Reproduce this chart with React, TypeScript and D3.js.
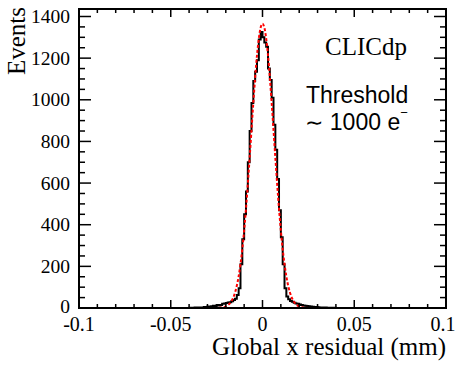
import React from "react";
import * as d3 from "d3";

// ---- data ----
const binLowEdge = -0.1;
const binWidth = 0.001;
// 200 bins over [-0.1, 0.1]
const counts: number[] = [
  0, 0, 0, 0, 0, 0, 0, 0, 0, 0,
  0, 0, 0, 0, 0, 0, 0, 0, 0, 0,
  0, 0, 0, 0, 0, 0, 0, 0, 0, 0,
  0, 0, 0, 0, 0, 0, 0, 0, 0, 0,
  0, 0, 0, 0, 0, 0, 0, 0, 0, 0,
  0, 0, 0, 0, 0, 0, 0, 0, 0, 0,
  1, 1, 1, 2, 1, 2, 2, 3, 5, 4,
  7, 6, 8, 11, 9, 14, 12, 15, 20, 22,
  24, 27, 28, 33, 38, 45, 62, 95, 210, 330,
  450, 560, 700, 850, 985, 1090, 1135, 1190, 1290, 1325,
  1300, 1275, 1255, 1150, 1095, 1010, 880, 760, 620, 470,
  340, 210, 95, 55, 42, 34, 30, 25, 22, 20,
  17, 14, 12, 11, 10, 8, 7, 6, 5, 5,
  4, 3, 3, 2, 2, 1, 1, 1, 0, 1,
  0, 0, 0, 0, 0, 0, 0, 0, 0, 0,
  0, 0, 0, 0, 0, 0, 0, 0, 0, 0,
  0, 0, 0, 0, 0, 0, 0, 0, 0, 0,
  0, 0, 0, 0, 0, 0, 0, 0, 0, 0,
  0, 0, 0, 0, 0, 0, 0, 0, 0, 0,
  0, 0, 0, 0, 0, 0, 0, 0, 0, 0,
];

// Gaussian fit curve, sampled
const fitX = [
  -0.1, -0.03, -0.025, -0.023, -0.021, -0.019, -0.017, -0.015, -0.013, -0.011,
  -0.009, -0.007, -0.005, -0.003, -0.001, 0, 0.001, 0.003, 0.005, 0.007,
  0.009, 0.011, 0.013, 0.015, 0.017, 0.019, 0.021, 0.023, 0.025, 0.03, 0.1,
];
const fitY = [
  0, 0, 0.5, 1.4, 4.4, 12.5, 32, 73, 152, 283,
  476, 722, 986, 1214, 1347, 1365, 1347, 1214, 986, 722,
  476, 283, 152, 73, 32, 12.5, 4.4, 1.4, 0.5, 0, 0,
];

const xDomain = [-0.1, 0.1];
const yDomain = [0, 1436];
const xMajorTicks = [-0.1, -0.05, 0, 0.05, 0.1];
const xTickLabels = ["-0.1", "-0.05", "0", "0.05", "0.1"];
const yMajorTicks = [0, 200, 400, 600, 800, 1000, 1200, 1400];
const yTickLabels = ["0", "200", "400", "600", "800", "1000", "1200", "1400"];

const xTitle = "Global x residual (mm)";
const yTitle = "Events";
const label1 = "CLICdp";
const label2 = "Threshold";
const label3a = "\u223C";
const label3b = " 1000 e";

export default function App() {
  const L = 79, R = 446, T = 9, B = 308;
  const x = d3.scaleLinear().domain(xDomain).range([L, R]);
  const y = d3.scaleLinear().domain(yDomain).range([B, T]);

  const edges = counts.map((_, i) => binLowEdge + i * binWidth);
  const histPts: [number, number][] = counts.map((c, i) => [x(edges[i]), y(c)]);
  histPts.push([x(binLowEdge + counts.length * binWidth), y(counts[counts.length - 1])]);
  const histPath = d3.line().curve(d3.curveStepAfter)(histPts) || "";

  const fitPath =
    d3
      .line<number>()
      .x((_, i) => x(fitX[i]))
      .y((v) => y(v))
      .curve(d3.curveMonotoneX)(fitY) || "";

  const xMinor = x.ticks(20);
  const yMinor = y.ticks(28);

  const serif = "'Liberation Serif', 'Times New Roman', serif";
  const sans = "'Liberation Sans', Arial, sans-serif";

  const xMajLen = 8, xMinLen = 4, yMajLen = 12, yMinLen = 6;

  return (
    <svg
      width={458}
      height={365}
      style={{ position: "absolute", left: 0, top: 0, background: "#fff" }}
    >
      <rect x={0} y={0} width={458} height={365} fill="#fff" />
      {/* histogram */}
      <path d={histPath} fill="none" stroke="#000" strokeWidth={2} />
      {/* fit */}
      <path
        d={fitPath}
        fill="none"
        stroke="#ff0000"
        strokeWidth={2}
        strokeDasharray="3,2"
      />
      {/* frame */}
      <rect x={L} y={T} width={R - L} height={B - T} fill="none" stroke="#000" strokeWidth={2} />
      {/* x ticks bottom & top */}
      {xMinor.map((v, i) => {
        const major = xMajorTicks.some((m) => Math.abs(m - v) < 1e-9);
        const len = major ? xMajLen : xMinLen;
        return (
          <g key={"xt" + i}>
            <line x1={x(v)} x2={x(v)} y1={B} y2={B - len} stroke="#000" strokeWidth={1.5} />
            <line x1={x(v)} x2={x(v)} y1={T} y2={T + len} stroke="#000" strokeWidth={1.5} />
          </g>
        );
      })}
      {/* y ticks left & right */}
      {yMinor.map((v, i) => {
        const major = yMajorTicks.includes(v);
        const len = major ? yMajLen : yMinLen;
        return (
          <g key={"yt" + i}>
            <line x1={L} x2={L + len} y1={y(v)} y2={y(v)} stroke="#000" strokeWidth={1.5} />
            <line x1={R} x2={R - len} y1={y(v)} y2={y(v)} stroke="#000" strokeWidth={1.5} />
          </g>
        );
      })}
      {/* x tick labels */}
      {xMajorTicks.map((v, i) => (
        <text
          key={"xl" + i}
          x={x(v) - (i === xMajorTicks.length - 1 ? 3 : 0)}
          y={331}
          textAnchor="middle"
          fontFamily={serif}
          fontSize={20}
          fill="#000"
        >
          {xTickLabels[i]}
        </text>
      ))}
      {/* y tick labels */}
      {yMajorTicks.map((v, i) => (
        <text
          key={"yl" + i}
          x={70}
          y={y(v) + 6.6 - (i === 0 ? 1.5 : 0)}
          textAnchor="end"
          fontFamily={serif}
          fontSize={19.5}
          fill="#000"
        >
          {yTickLabels[i]}
        </text>
      ))}
      {/* axis titles */}
      <text x={446} y={355} textAnchor="end" fontFamily={serif} fontSize={25} fill="#000">
        {xTitle}
      </text>
      <text
        transform="translate(25,7) rotate(-90)"
        textAnchor="end"
        fontFamily={serif}
        fontSize={25}
        fill="#000"
      >
        {yTitle}
      </text>
      {/* labels */}
      <text x={325} y={55} fontFamily={serif} fontSize={25} fill="#000">
        {label1}
      </text>
      <text x={306} y={103} fontFamily={sans} fontSize={23} fill="#000">
        {label2}
      </text>
      <text x={305} y={130} fontFamily={sans} fontSize={23} fill="#000">
        <tspan fontFamily="'DejaVu Sans', sans-serif" fontSize={22}>{label3a}</tspan>
        {label3b}
        <tspan dy={-13} fontSize={13}>{"\u2212"}</tspan>
      </text>
    </svg>
  );
}
